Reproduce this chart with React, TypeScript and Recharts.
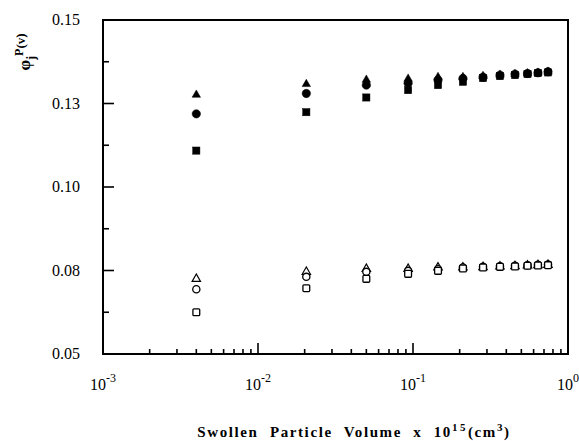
import { ScatterChart, Scatter, XAxis, YAxis, ReferenceArea } from "recharts"

// swollen particle volume x 10^15 (cm^3)
const volumes = [0.004, 0.0205, 0.05, 0.093, 0.145, 0.21, 0.283, 0.364, 0.455, 0.548, 0.64, 0.743]

const filledTriangle = [0.1278, 0.131, 0.1323, 0.1326, 0.1331, 0.1331, 0.1334, 0.1338, 0.134, 0.1342, 0.1344, 0.1347]
const filledCircle = [0.1219, 0.128, 0.1305, 0.1311, 0.132, 0.1325, 0.1329, 0.1335, 0.1338, 0.134, 0.1342, 0.1345]
const filledSquare = [0.1109, 0.1224, 0.1268, 0.129, 0.1305, 0.1315, 0.1326, 0.1332, 0.1335, 0.1338, 0.1341, 0.1343]

const openTriangle = [0.0727, 0.0748, 0.0757, 0.0757, 0.0761, 0.0761, 0.0762, 0.0764, 0.0765, 0.0767, 0.0768, 0.0769]
const openCircle = [0.0694, 0.0731, 0.0746, 0.0749, 0.0754, 0.0759, 0.0761, 0.0763, 0.0764, 0.0766, 0.0767, 0.0768]
const openSquare = [0.0625, 0.0697, 0.0725, 0.074, 0.0749, 0.0756, 0.0759, 0.0761, 0.0762, 0.0764, 0.0765, 0.0766]

const yTicks = [0.05, 0.0625, 0.075, 0.0875, 0.1, 0.1125, 0.125, 0.1375, 0.15]
const yTickLabels = ["0.05", "", "0.08", "", "0.10", "", "0.13", "", "0.15"]

const xDecades = [0.001, 0.01, 0.1, 1]
const xDecadeExp = ["-3", "-2", "-1", "0"]
const xMinor = [2, 3, 4, 5, 6, 7, 8, 9]
const xTicks = [
  ...xDecades,
  ...xDecades.slice(0, 3).flatMap((d) => xMinor.map((m) => d * m)),
].sort((a, b) => a - b)

const toPoints = (ys: number[]) => volumes.map((x, i) => ({ x, y: ys[i] }))

const serif = "'Liberation Serif', 'Times New Roman', serif"

function Tri({ cx, cy, open }: any) {
  const r = 4.2
  return (
    <polygon
      points={`${cx},${cy - r} ${cx - r},${cy + r * 0.75} ${cx + r},${cy + r * 0.75}`}
      fill={open ? "#fff" : "#000"}
      stroke="#000"
      strokeWidth={open ? 1.2 : 0.5}
    />
  )
}

function Circ({ cx, cy, open }: any) {
  return <circle cx={cx} cy={cy} r={open ? 3.6 : 4.2} fill={open ? "#fff" : "#000"} stroke="#000" strokeWidth={open ? 1.3 : 0.5} />
}

function Sq({ cx, cy, open }: any) {
  const h = open ? 3.4 : 3.6
  return (
    <rect
      x={cx - h}
      y={cy - h}
      width={h * 2}
      height={h * 2}
      rx={open ? 1 : 0}
      fill={open ? "#fff" : "#000"}
      stroke="#000"
      strokeWidth={open ? 1.3 : 0.5}
    />
  )
}

function YTick({ x, y, index }: any) {
  const label = yTickLabels[index]
  const len = label ? 11 : 6
  return (
    <g>
      <line x1={x} y1={y} x2={x + len} y2={y} stroke="#000" strokeWidth={1.6} />
      {label && (
        <text x={x - 23} y={y + 5} textAnchor="end" fontFamily={serif} fontSize={16} fill="#000">
          {label}
        </text>
      )}
    </g>
  )
}

function XTick({ x, y, payload }: any) {
  const i = xDecades.findIndex((d) => Math.abs(d - payload.value) < d * 1e-6)
  const major = i >= 0
  return (
    <g>
      <line x1={x} y1={y} x2={x} y2={y - (major ? 11 : 5)} stroke="#000" strokeWidth={1.6} />
      {major && (
        <text x={x} y={y + 36} textAnchor="middle" fontFamily={serif} fontSize={16} fill="#000">
          10
          <tspan dy={-8} fontSize={12}>
            {xDecadeExp[i]}
          </tspan>
        </text>
      )}
    </g>
  )
}

export default function App() {
  return (
    <div style={{ position: "absolute", left: 0, top: 0, width: 579, height: 441, background: "#fff" }}>
      <ScatterChart width={579} height={441} margin={{ top: 20, right: 11, bottom: 57, left: 43 }}>
        <XAxis
          dataKey="x"
          type="number"
          scale="log"
          domain={[0.001, 1]}
          ticks={xTicks}
          interval={0}
          allowDataOverflow
          height={30}
          tickSize={0}
          tickMargin={0}
          tickLine={false}
          axisLine={{ stroke: "#000", strokeWidth: 2 }}
          tick={<XTick />}
        />
        <YAxis
          dataKey="y"
          type="number"
          domain={[0.05, 0.15]}
          ticks={yTicks}
          interval={0}
          allowDataOverflow
          width={60}
          tickSize={0}
          tickMargin={0}
          tickLine={false}
          axisLine={{ stroke: "#000", strokeWidth: 2 }}
          tick={<YTick />}
        />
        <ReferenceArea x1={0.001} x2={1} y1={0.05} y2={0.15} fill="none" stroke="#000" strokeWidth={2} ifOverflow="visible" />
        <Scatter data={toPoints(openTriangle)} isAnimationActive={false} shape={(p: any) => <Tri {...p} open />} />
        <Scatter data={toPoints(openCircle)} isAnimationActive={false} shape={(p: any) => <Circ {...p} open />} />
        <Scatter data={toPoints(openSquare)} isAnimationActive={false} shape={(p: any) => <Sq {...p} open />} />
        <Scatter data={toPoints(filledTriangle)} isAnimationActive={false} shape={(p: any) => <Tri {...p} />} />
        <Scatter data={toPoints(filledCircle)} isAnimationActive={false} shape={(p: any) => <Circ {...p} />} />
        <Scatter data={toPoints(filledSquare)} isAnimationActive={false} shape={(p: any) => <Sq {...p} />} />
      </ScatterChart>
      <svg width={579} height={441} style={{ position: "absolute", left: 0, top: 0, pointerEvents: "none" }}>
        <text
          x={354}
          y={437}
          textAnchor="middle"
          fontFamily={serif}
          fontWeight="bold"
          fontSize={15}
          letterSpacing={1.6}
          wordSpacing={6}
          fill="#000"
        >
          Swollen Particle Volume x 10
          <tspan dy={-6} fontSize={11} letterSpacing={2.5}>15</tspan>
          <tspan dy={6}>(cm</tspan>
          <tspan dy={-6} fontSize={11}>3</tspan>
          <tspan dy={6}>)</tspan>
        </text>
        <text transform="translate(30,52) rotate(-90)" textAnchor="middle" fontFamily={serif} fontWeight="bold" fontSize={17} fill="#000">
          φ
          <tspan dy={5} fontSize={12}>j</tspan>
          <tspan dy={-12} fontSize={12}>P</tspan>
          <tspan dy={2} fontSize={13}>(v)</tspan>
        </text>
      </svg>
    </div>
  )
}
